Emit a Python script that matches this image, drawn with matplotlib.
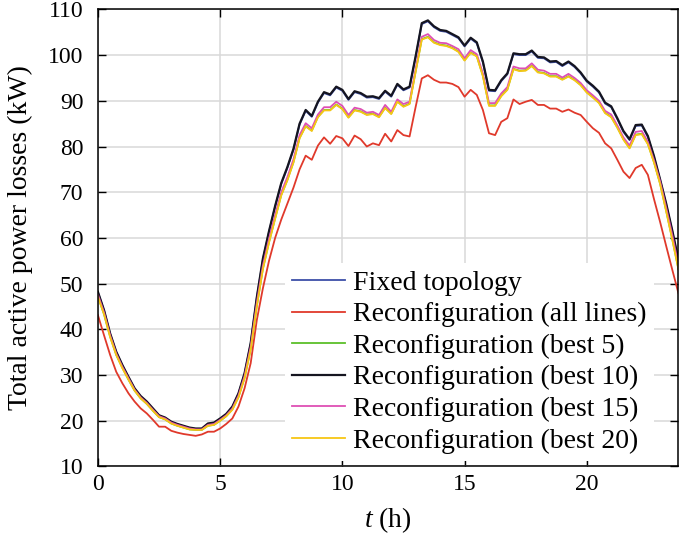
import numpy as np
import matplotlib
matplotlib.use("Agg")
import matplotlib.pyplot as plt

plt.rcParams['font.family'] = ['Liberation Serif', 'DejaVu Serif']
plt.rcParams['mathtext.fontset'] = 'custom'
plt.rcParams['mathtext.rm'] = 'Liberation Serif'
plt.rcParams['mathtext.it'] = 'Liberation Serif:italic'

# 15-minute samples over one day
t_hours = np.arange(96) * 0.25

fixed_topology = [
    48.1, 44.1, 39.0, 35.0, 32.1, 29.5, 27.0, 25.3, 24.1, 22.6,
    21.1, 20.6, 19.7, 19.2, 18.8, 18.4, 18.2, 18.2, 19.3, 19.5,
    20.4, 21.4, 23.0, 25.9, 30.3, 36.9, 46.9, 55.3, 61.3, 66.8,
    71.8, 75.3, 79.3, 84.8, 87.8, 86.5, 89.6, 91.7, 91.2, 92.9,
    92.2, 90.2, 91.9, 91.5, 90.7, 90.8, 90.4, 92.0, 90.9, 93.5,
    92.3, 92.9, 99.6, 106.8, 107.4, 106.1, 105.3, 105.1, 104.4, 103.7,
    101.9, 103.6, 102.6, 98.4, 92.2, 92.1, 94.3, 95.8, 100.2, 100.0,
    100.0, 100.8, 99.4, 99.3, 98.4, 98.5, 97.6, 98.4, 97.4, 96.0,
    94.2, 93.1, 91.8, 89.4, 88.6, 86.0, 83.2, 81.4, 84.5, 84.6,
    82.1, 77.7, 72.6, 67.3, 61.4, 55.0]

reconf_all = [
    43.1, 38.7, 34.4, 30.7, 28.2, 26.0, 24.2, 22.7, 21.6, 20.2,
    18.7, 18.7, 17.8, 17.4, 17.1, 16.9, 16.7, 17.0, 17.6, 17.6,
    18.3, 19.3, 20.5, 23.1, 27.1, 32.6, 42.0, 49.0, 55.0, 60.0,
    64.0, 67.5, 71.0, 75.0, 78.0, 77.1, 80.2, 82.0, 80.6, 82.3,
    81.8, 80.1, 82.4, 81.6, 80.0, 80.7, 80.3, 82.8, 81.1, 83.6,
    82.5, 82.2, 88.7, 94.9, 95.6, 94.6, 94.0, 94.0, 93.7, 93.0,
    90.9, 92.4, 91.3, 88.0, 82.9, 82.5, 85.4, 86.2, 90.3, 89.3,
    89.8, 90.2, 89.1, 89.1, 88.3, 88.3, 87.6, 88.1, 87.4, 86.9,
    85.4, 84.0, 83.0, 80.7, 79.6, 77.1, 74.5, 73.1, 75.3, 76.0,
    73.8, 68.5, 63.5, 58.2, 53.0, 47.9]

reconf_best5 = [
    47.2, 43.3, 38.4, 34.4, 31.6, 29.0, 26.6, 24.9, 23.7, 22.2,
    20.8, 20.3, 19.4, 18.9, 18.5, 18.1, 18.0, 18.0, 18.9, 19.1,
    20.0, 21.0, 22.5, 25.2, 29.4, 35.7, 45.1, 53.3, 59.1, 64.3,
    69.4, 72.7, 76.6, 81.9, 84.5, 83.5, 86.5, 88.0, 88.0, 89.2,
    88.3, 86.4, 88.0, 87.7, 87.0, 87.2, 86.5, 88.5, 87.2, 89.9,
    88.8, 89.4, 96.5, 103.5, 104.0, 102.8, 102.3, 102.1, 101.6, 100.8,
    98.9, 100.6, 99.8, 95.5, 89.0, 89.0, 91.1, 92.5, 97.0, 96.6,
    96.7, 97.7, 96.3, 96.1, 95.4, 95.4, 94.7, 95.4, 94.6, 93.5,
    91.9, 90.8, 89.6, 87.4, 86.5, 84.2, 81.6, 79.7, 82.6, 82.8,
    80.6, 76.6, 71.9, 65.9, 59.7, 53.2]

reconf_best10 = [
    48.2, 44.2, 39.1, 35.1, 32.2, 29.6, 27.1, 25.4, 24.2, 22.7,
    21.2, 20.7, 19.8, 19.3, 18.9, 18.5, 18.3, 18.3, 19.4, 19.6,
    20.5, 21.5, 23.1, 26.0, 30.4, 37.0, 47.0, 55.5, 61.5, 67.0,
    72.0, 75.5, 79.5, 85.0, 88.0, 86.7, 89.8, 91.9, 91.4, 93.1,
    92.4, 90.4, 92.1, 91.7, 90.9, 91.0, 90.6, 92.2, 91.1, 93.7,
    92.5, 93.1, 99.8, 107.0, 107.6, 106.3, 105.5, 105.3, 104.6, 103.9,
    102.1, 103.8, 102.8, 98.6, 92.4, 92.3, 94.5, 96.0, 100.4, 100.2,
    100.2, 101.0, 99.6, 99.5, 98.6, 98.7, 97.8, 98.6, 97.6, 96.2,
    94.4, 93.3, 92.0, 89.6, 88.8, 86.2, 83.4, 81.6, 84.7, 84.8,
    82.3, 77.9, 72.8, 67.5, 61.6, 55.2]

reconf_best15 = [
    47.6, 43.7, 38.7, 34.7, 31.8, 29.3, 26.8, 25.1, 23.9, 22.4,
    21.0, 20.5, 19.6, 19.1, 18.7, 18.3, 18.1, 18.1, 19.1, 19.3,
    20.2, 21.2, 22.7, 25.5, 29.8, 36.2, 45.8, 54.0, 59.8, 65.0,
    70.0, 73.3, 77.2, 82.5, 85.1, 84.0, 87.0, 88.6, 88.6, 89.8,
    88.9, 86.9, 88.5, 88.2, 87.4, 87.6, 86.9, 89.1, 87.6, 90.3,
    89.3, 89.8, 97.0, 104.0, 104.6, 103.3, 102.7, 102.6, 102.0, 101.3,
    99.3, 101.1, 100.2, 96.0, 89.5, 89.5, 91.6, 93.0, 97.5, 97.1,
    97.1, 98.2, 96.8, 96.6, 95.9, 95.9, 95.1, 95.9, 95.0, 93.9,
    92.3, 91.2, 90.0, 87.8, 87.0, 84.6, 82.0, 80.2, 83.2, 83.4,
    81.0, 77.0, 72.4, 66.6, 60.6, 54.0]

reconf_best20 = [
    47.1, 43.3, 38.3, 34.4, 31.5, 29.0, 26.6, 24.9, 23.7, 22.2,
    20.8, 20.3, 19.4, 18.9, 18.5, 18.1, 18.0, 18.0, 18.9, 19.1,
    20.0, 21.0, 22.4, 25.1, 29.3, 35.6, 45.0, 53.2, 59.0, 64.2,
    69.3, 72.6, 76.5, 81.8, 84.4, 83.4, 86.4, 87.9, 87.9, 89.1,
    88.2, 86.3, 87.9, 87.6, 86.9, 87.1, 86.4, 88.4, 87.1, 89.8,
    88.7, 89.3, 96.4, 103.4, 103.9, 102.7, 102.2, 102.0, 101.5, 100.7,
    98.8, 100.5, 99.7, 95.4, 88.9, 88.9, 91.0, 92.4, 96.9, 96.5,
    96.6, 97.6, 96.2, 96.0, 95.3, 95.3, 94.6, 95.3, 94.5, 93.4,
    91.8, 90.7, 89.5, 87.3, 86.4, 84.1, 81.5, 79.6, 82.5, 82.7,
    80.5, 76.5, 71.8, 65.8, 59.6, 53.1]

series = [
    ("Fixed topology", fixed_topology, "#3d4fa8", 1.3),
    ("Reconfiguration (all lines)", reconf_all, "#e0392b", 1.3),
    ("Reconfiguration (best 5)", reconf_best5, "#5cbf2a", 1.3),
    ("Reconfiguration (best 10)", reconf_best10, "#151520", 1.6),
    ("Reconfiguration (best 15)", reconf_best15, "#de4fb4", 1.3),
    ("Reconfiguration (best 20)", reconf_best20, "#f7c614", 1.3),
]

fig = plt.figure(figsize=(6.8, 5.38), dpi=100)
ax = fig.add_axes([0.144, 0.133, 0.8537, 0.8495])

for name, vals, col, lw in series:
    ax.plot(t_hours, vals, color=col, lw=lw, label=name)

ax.set_xlim(0, 23.75)
ax.set_ylim(10, 110)
ax.set_xticks([0, 5, 10, 15, 20])
ax.set_yticks(np.arange(10, 111, 10))
ax.grid(True, color='#d8d8d8', lw=1.1)
ax.set_axisbelow(True)
ax.tick_params(direction='in', length=6, width=1, top=True, right=True,
               labelsize=17)
ax.tick_params(axis='y', pad=10.5)
ax.tick_params(axis='x', pad=5.5)
for s in ax.spines.values():
    s.set_linewidth(1.1)

ax.set_xlabel('$t$ (h)', fontsize=20, labelpad=7)
ax.set_ylabel('Total active power losses (kW)', fontsize=20, labelpad=11)

leg = ax.legend(loc='lower left', bbox_to_anchor=(0.323, 0.013), fontsize=20,
                frameon=True, fancybox=False, framealpha=1, edgecolor='none',
                handlelength=1.9, handletextpad=0.29, labelspacing=0.22,
                borderpad=0.25, borderaxespad=0.0)

fig.savefig('out.png', dpi=100)
